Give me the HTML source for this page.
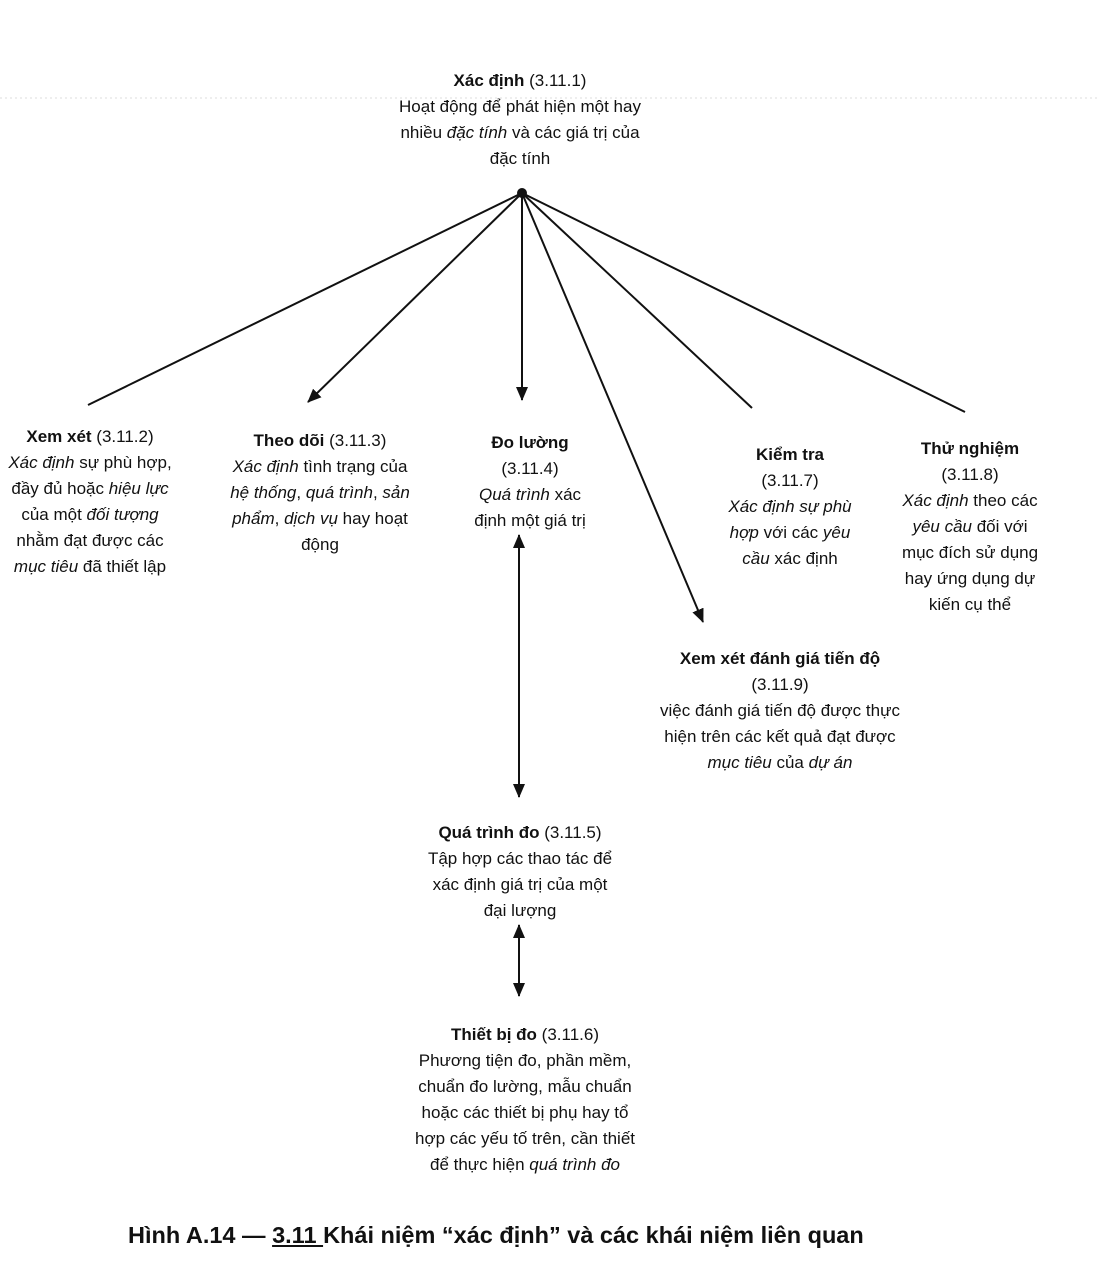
<!DOCTYPE html>
<html><head><meta charset="utf-8"><style>
body{margin:0;width:1100px;height:1286px;background:#fff;position:relative;overflow:hidden;font-family:"Liberation Sans",Arial,sans-serif;color:#111}
.t{position:absolute;text-align:center;font-size:17px;line-height:26px;white-space:nowrap}
b{font-weight:bold}
</style></head><body>
<svg width="1100" height="1286" style="position:absolute;left:0;top:0">
<defs><marker id="a" markerWidth="16" markerHeight="14" refX="13" refY="6" orient="auto" markerUnits="userSpaceOnUse"><path d="M0,0 L14,6 L0,12 Z" fill="#111"/></marker>
<marker id="s" markerWidth="16" markerHeight="14" refX="1" refY="6" orient="auto" markerUnits="userSpaceOnUse"><path d="M14,0 L0,6 L14,12 Z" fill="#111"/></marker></defs>
<line x1="0" y1="98" x2="1100" y2="98" stroke="#ddd" stroke-width="1" stroke-dasharray="2,3"/>
<g stroke="#111" stroke-width="2" fill="none">
<line x1="522" y1="193" x2="88" y2="405"/>
<line x1="522" y1="193" x2="308" y2="402" marker-end="url(#a)"/>
<line x1="522" y1="193" x2="522" y2="400" marker-end="url(#a)"/>
<line x1="522" y1="193" x2="703" y2="622" marker-end="url(#a)"/>
<line x1="522" y1="193" x2="752" y2="408"/>
<line x1="522" y1="193" x2="965" y2="412"/>
<line x1="519" y1="535" x2="519" y2="797" marker-start="url(#s)" marker-end="url(#a)"/>
<line x1="519" y1="925" x2="519" y2="996" marker-start="url(#s)" marker-end="url(#a)"/>
</g>
<circle cx="522" cy="193" r="5" fill="#111"/>
</svg>
<div class="t" style="left:370px;top:68px;width:300px"><b>Xác định</b> (3.11.1)<br>Hoạt động để phát hiện một hay<br>nhiều <i>đặc tính</i> và các giá trị của<br>đặc tính</div>
<div class="t" style="left:-30px;top:424px;width:240px"><b>Xem xét</b> (3.11.2)<br><i>Xác định</i> sự phù hợp,<br>đầy đủ hoặc <i>hiệu lực</i><br>của một <i>đối tượng</i><br>nhằm đạt được các<br><i>mục tiêu</i> đã thiết lập</div>
<div class="t" style="left:190px;top:428px;width:260px"><b>Theo dõi</b> (3.11.3)<br><i>Xác định</i>  tình trạng của<br><i>hệ thống</i>, <i>quá trình</i>, <i>sản</i><br><i>phẩm</i>, <i>dịch vụ</i> hay hoạt<br>động</div>
<div class="t" style="left:430px;top:430px;width:200px"><b>Đo lường</b><br>(3.11.4)<br><i>Quá trình</i> xác<br>định một giá trị</div>
<div class="t" style="left:680px;top:442px;width:220px"><b>Kiểm tra</b><br>(3.11.7)<br><i>Xác định sự phù</i><br><i>hợp</i> với các <i>yêu</i><br><i>cầu</i> xác định</div>
<div class="t" style="left:860px;top:436px;width:220px"><b>Thử nghiệm</b><br>(3.11.8)<br><i>Xác định</i> theo các<br><i>yêu cầu</i> đối với<br>mục đích sử dụng<br>hay ứng dụng dự<br>kiến cụ thể</div>
<div class="t" style="left:620px;top:646px;width:320px"><b>Xem xét đánh giá tiến độ</b><br>(3.11.9)<br>việc đánh giá tiến độ được thực<br>hiện trên các kết quả đạt được<br><i>mục tiêu</i>  của <i>dự án</i></div>
<div class="t" style="left:390px;top:820px;width:260px"><b>Quá trình đo</b> (3.11.5)<br>Tập hợp các thao tác để<br>xác định giá trị của một<br>đại lượng</div>
<div class="t" style="left:390px;top:1022px;width:270px"><b>Thiết bị đo</b> (3.11.6)<br>Phương tiện đo, phần mềm,<br>chuẩn đo lường, mẫu chuẩn<br>hoặc các thiết bị phụ hay tổ<br>hợp các  yếu tố trên, cần thiết<br>để thực hiện <i>quá trình đo</i></div>
<div class="t" style="left:128px;top:1220px;text-align:left;font-size:23.5px;line-height:30px;font-weight:bold">Hình A.14 — <u>3.11 </u>Khái niệm “xác định” và các khái niệm liên quan</div>
</body></html>
